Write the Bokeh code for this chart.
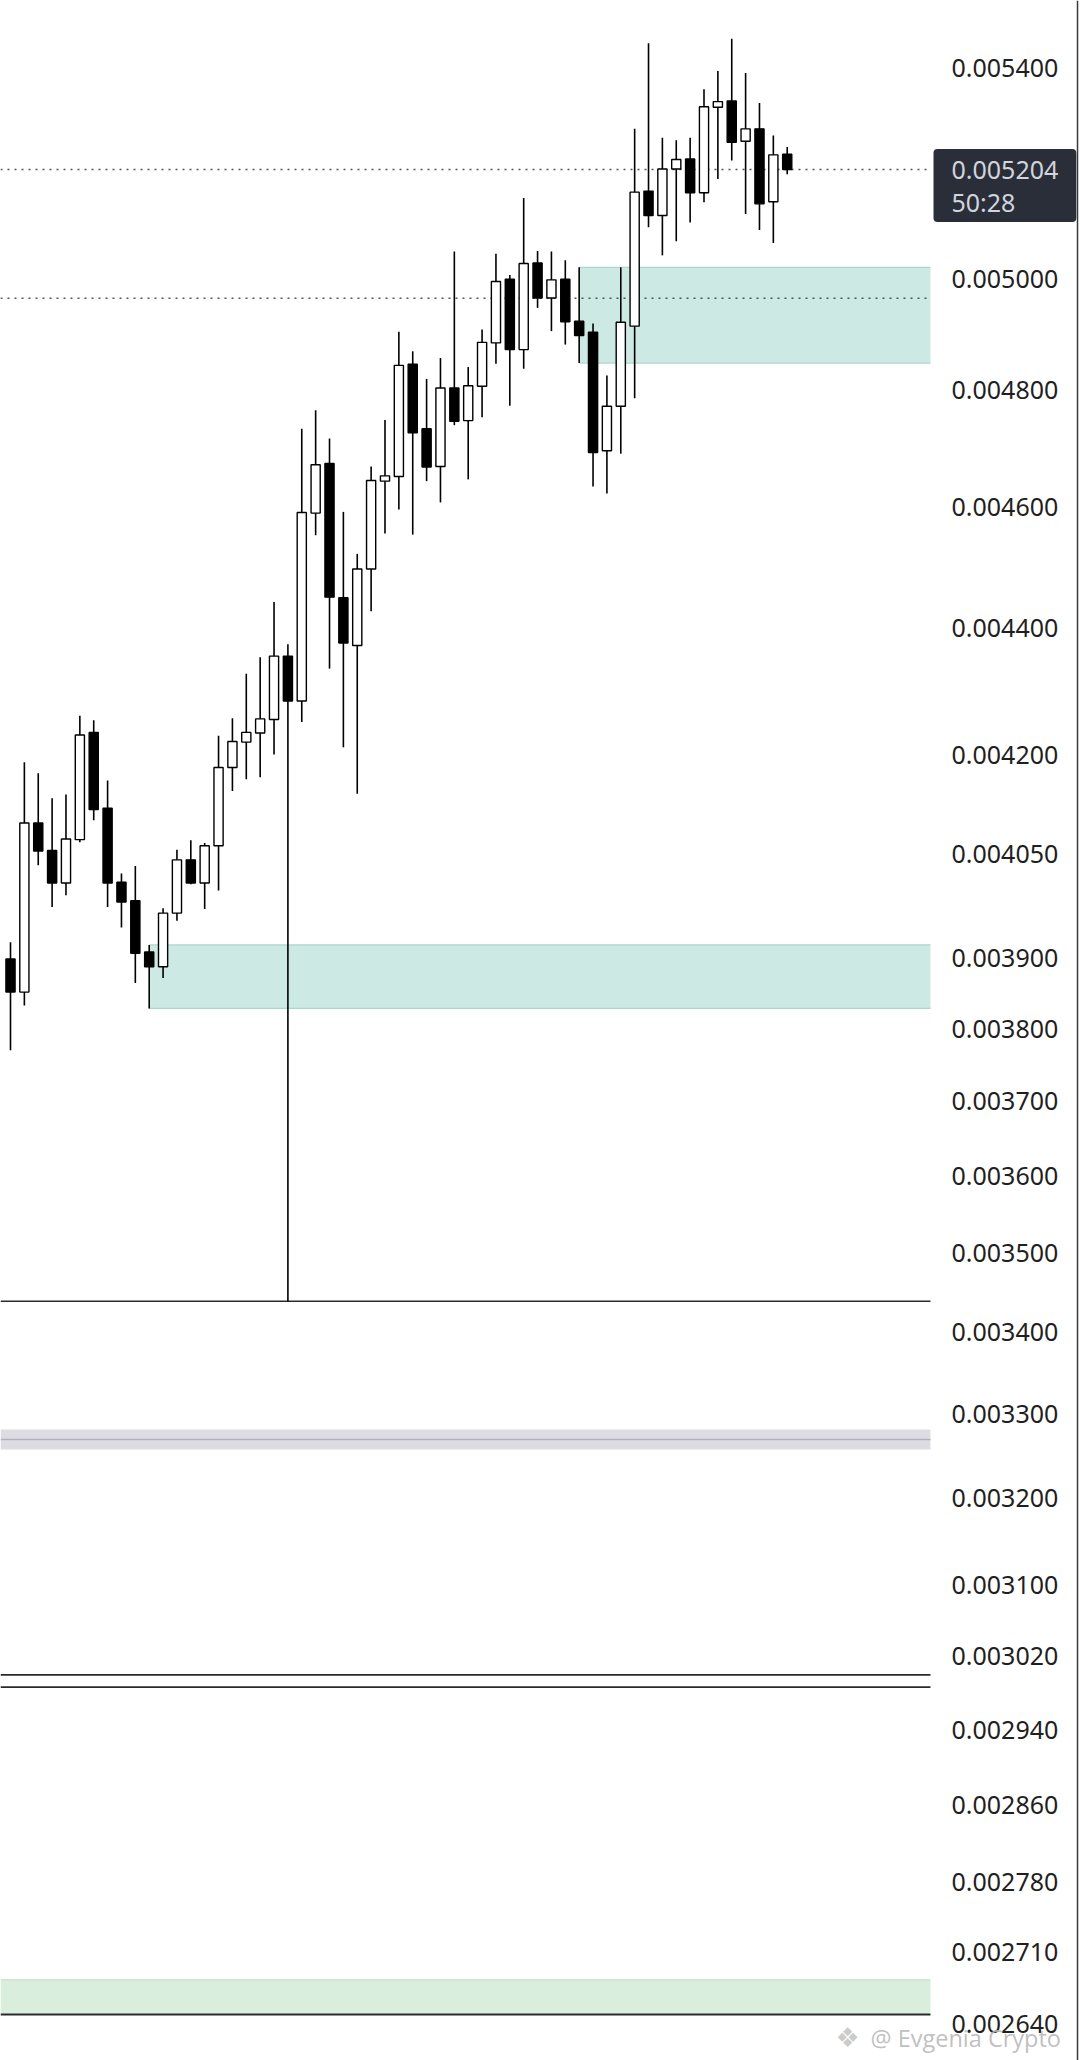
from bokeh.plotting import figure
from bokeh.models import Range1d, FixedTicker, PrintfTickFormatter, BoxAnnotation, Span, Label
from bokeh.embed import file_html
from bokeh.resources import INLINE

# ---- candle data (one candle per index) ----
open_ = [0.003898, 0.003851, 0.004097, 0.004056, 0.004008, 0.004072, 0.004235, 0.004119, 0.004009, 0.003982,
         0.003908, 0.003887, 0.003964, 0.004042, 0.004008, 0.004063, 0.004181, 0.004220, 0.004234, 0.004255,
         0.004355, 0.004284, 0.004589, 0.004673, 0.004449, 0.004372, 0.004496, 0.004643, 0.004651, 0.004846,
         0.004733, 0.004668, 0.004804, 0.004747, 0.004807, 0.004884, 0.004999, 0.004872, 0.005029, 0.004965,
         0.004999, 0.004923, 0.004903, 0.004695, 0.004772, 0.004914, 0.005163, 0.005117, 0.005205, 0.005224,
         0.005160, 0.005324, 0.005336, 0.005258, 0.005282, 0.005143, 0.005233]
high = [0.003922, 0.004189, 0.004172, 0.004134, 0.004140, 0.004261, 0.004254, 0.004161, 0.004022, 0.004033,
        0.003918, 0.003971, 0.004057, 0.004071, 0.004067, 0.004230, 0.004257, 0.004327, 0.004353, 0.004442,
        0.004374, 0.004733, 0.004765, 0.004716, 0.004591, 0.004521, 0.004668, 0.004748, 0.004904, 0.004869,
        0.004820, 0.004857, 0.005050, 0.004841, 0.004908, 0.005046, 0.005007, 0.005150, 0.005051, 0.005050,
        0.005034, 0.005021, 0.004919, 0.004826, 0.005021, 0.005282, 0.005450, 0.005265, 0.005260, 0.005265,
        0.005359, 0.005395, 0.005459, 0.005391, 0.005332, 0.005269, 0.005247]
low = [0.003770, 0.003832, 0.004034, 0.003973, 0.003990, 0.004068, 0.004101, 0.003973, 0.003943, 0.003864,
       0.003828, 0.003871, 0.003953, 0.004006, 0.003970, 0.003997, 0.004145, 0.004163, 0.004166, 0.004201,
       0.003439, 0.004251, 0.004552, 0.004335, 0.004212, 0.004141, 0.004427, 0.004555, 0.004595, 0.004553,
       0.004643, 0.004607, 0.004739, 0.004646, 0.004753, 0.004847, 0.004773, 0.004838, 0.004947, 0.004905,
       0.004881, 0.004848, 0.004634, 0.004622, 0.004690, 0.004786, 0.005095, 0.005043, 0.005069, 0.005104,
       0.005142, 0.005186, 0.005221, 0.005120, 0.005090, 0.005066, 0.005195]
close = [0.003851, 0.004097, 0.004055, 0.004008, 0.004073, 0.004231, 0.004117, 0.004008, 0.003980, 0.003906,
         0.003887, 0.003964, 0.004042, 0.004008, 0.004063, 0.004181, 0.004221, 0.004235, 0.004256, 0.004355,
         0.004284, 0.004590, 0.004671, 0.004450, 0.004376, 0.004496, 0.004644, 0.004652, 0.004844, 0.004726,
         0.004667, 0.004804, 0.004746, 0.004808, 0.004885, 0.004995, 0.004872, 0.005028, 0.004965, 0.004998,
         0.004922, 0.004897, 0.004692, 0.004772, 0.004921, 0.005161, 0.005117, 0.005205, 0.005223, 0.005160,
         0.005325, 0.005335, 0.005256, 0.005282, 0.005139, 0.005232, 0.005204]

# ---- price axis ticks ----
tick_values = [0.0054, 0.0050, 0.0048, 0.0046, 0.0044, 0.0042, 0.00405, 0.0039, 0.0038, 0.0037, 0.0036,
               0.0035, 0.0034, 0.0033, 0.0032, 0.0031, 0.00302, 0.00294, 0.00286, 0.00278, 0.00271, 0.00264]

# ---- zones (start candle index, top, bottom) ----
zone_start = [10, 41]
zone_top = [0.003918, 0.005021]
zone_bottom = [0.003828, 0.004848]

# ---- horizontal levels ----
solid_levels = [0.003439, 0.0029994, 0.0029859]
gray_band = [0.0032812, 0.0032573]
gray_band_mid = 0.0032692
green_band = [0.0026826, 0.0026488]
dotted_levels = [0.005204, 0.0049645]
last_price = 0.005204
last_price_text = "0.005204"
countdown_text = "50:28"

# ---- layout (x in candle-index units) ----
X_START, X_END = -0.721, 77.145
AXIS_X = 66.33          # price-scale edge
BORDER_X = 76.93        # screenshot border line

x = list(range(len(open_)))
top = [max(o, c) for o, c in zip(open_, close)]
bottom = [min(o, c) for o, c in zip(open_, close)]
fill = ["white" if c >= o else "black" for o, c in zip(open_, close)]

p = figure(width=1080, height=2060,
           x_range=Range1d(X_START, X_END),
           y_range=Range1d(0.00260456, 0.00553609),
           y_axis_type="log", y_axis_location="right", x_axis_location=None,
           output_backend="svg", toolbar_location=None,
           min_border_left=0, min_border_right=0, min_border_top=0, min_border_bottom=0,
           background_fill_color="white", border_fill_color="white", outline_line_color=None)
p.xgrid.visible = False
p.ygrid.visible = False

ax = p.yaxis[0]
ax.fixed_location = AXIS_X
ax.ticker = FixedTicker(ticks=tick_values, minor_ticks=[])
ax.formatter = PrintfTickFormatter(format="%.6f")
ax.axis_line_color = None
ax.major_tick_line_color = None
ax.minor_tick_line_color = None
ax.major_tick_out = 0
ax.major_tick_in = 0
ax.major_label_standoff = 21
ax.major_label_text_font = "Noto Sans"
ax.major_label_text_font_size = "25px"
ax.major_label_text_color = "#1f1f1f"

# zones
for s, t, b in zip(zone_start, zone_top, zone_bottom):
    p.add_layout(BoxAnnotation(left=s, right=AXIS_X, top=t, bottom=b, fill_color="#cde9e4",
                               fill_alpha=1.0, line_color=None, level="underlay"))
p.segment(x0=zone_start + zone_start, x1=[AXIS_X] * 4, y0=zone_top + zone_bottom,
          y1=zone_top + zone_bottom, line_color="#acd7ce", line_width=1.3)

# gray band
p.add_layout(BoxAnnotation(right=AXIS_X, top=gray_band[0], bottom=gray_band[1], fill_color="#dedce3",
                           fill_alpha=1.0, line_color=None, level="underlay"))
p.segment(x0=[X_START], x1=[AXIS_X], y0=[gray_band_mid], y1=[gray_band_mid],
          line_color="#b3afbb", line_width=1.6)

# green band
p.add_layout(BoxAnnotation(right=AXIS_X, top=green_band[0], bottom=green_band[1], fill_color="#d9eedc",
                           fill_alpha=1.0, line_color=None, level="underlay"))
p.segment(x0=[X_START], x1=[AXIS_X], y0=[green_band[0]], y1=[green_band[0]],
          line_color="#c3e2c7", line_width=1.3)
p.segment(x0=[X_START], x1=[AXIS_X], y0=[green_band[1]], y1=[green_band[1]],
          line_color="#2b2b2b", line_width=2.2)

# solid level lines
n = len(solid_levels)
p.segment(x0=[X_START] * n, x1=[AXIS_X] * n, y0=solid_levels, y1=solid_levels,
          line_color="#2b2b2b", line_width=1.7)

# dotted price lines
n = len(dotted_levels)
p.segment(x0=[X_START] * n, x1=[AXIS_X] * n, y0=dotted_levels, y1=dotted_levels,
          line_color="#555555", line_width=1.5, line_dash="2 5")

# candles
p.segment(x0=x, y0=low, x1=x, y1=high, line_color="black", line_width=1.6)
p.vbar(x=x, top=top, bottom=bottom, width=0.66, fill_color=fill, line_color="black", line_width=1.4)

# screenshot border at the right
p.add_layout(Span(location=BORDER_X, dimension="height", line_color="#3a3a3a", line_width=1.5))

# last price tag
p.add_layout(Label(x=933, y=last_price, x_units="screen", y_units="data",
                   text=last_price_text + "\n" + countdown_text,
                   text_font="Noto Sans", text_font_size="25px", text_color="#d1d4dc",
                   text_line_height=0.97, text_align="left", text_baseline="middle", y_offset=-16,
                   background_fill_color="#2a2e39", background_fill_alpha=1.0, border_radius=4,
                   padding=dict(left=18, right=18, top=3, bottom=3)))

# watermark
p.add_layout(Label(x=835, y=23, x_units="screen", y_units="screen", text="\u2756",
                   text_font="DejaVu Sans", text_font_size="27px", text_color="#c4c4c4",
                   text_alpha=0.9, text_baseline="middle"))
p.add_layout(Label(x=870, y=23, x_units="screen", y_units="screen", text="@ Evgenia Crypto",
                   text_font="Open Sans", text_font_size="23.5px", text_color="#b8b8b8",
                   text_alpha=0.9, text_baseline="middle"))

open("out.html", "w").write(file_html(p, INLINE))
